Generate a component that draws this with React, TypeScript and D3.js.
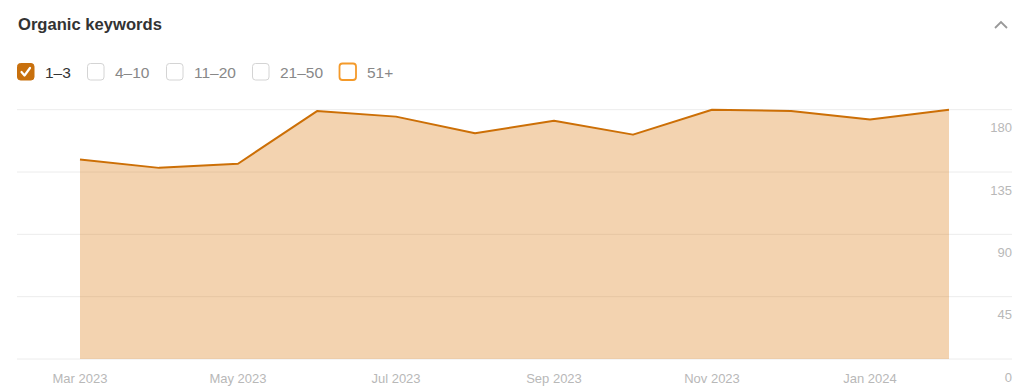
import React from "react";
import * as d3 from "d3";

const months = ["Mar 2023","Apr 2023","May 2023","Jun 2023","Jul 2023","Aug 2023","Sep 2023","Oct 2023","Nov 2023","Dec 2023","Jan 2024","Feb 2024"];
const values = [144, 138, 141, 179, 175, 163, 172, 162, 180, 179, 173, 180];
const tickMonths = ["Mar 2023","May 2023","Jul 2023","Sep 2023","Nov 2023","Jan 2024"];
const yTicks = [0, 45, 90, 135, 180];
const legendItems = ["1–3", "4–10", "11–20", "21–50", "51+"];
const legendChecked = [true, false, false, false, false];

const W = 1024, H = 391;
const FONT = "Arial, 'Liberation Sans', Helvetica, sans-serif";

export default function App() {
  const x = d3.scalePoint<string>().domain(months).range([80, 949]);
  const y = d3.scaleLinear().domain([0, 180]).range([359, 109.7]);
  const area = d3.area<number>().x((_, i) => x(months[i])!).y0(y(0)).y1(d => y(d));
  const line = d3.line<number>().x((_, i) => x(months[i])!).y(d => y(d));
  const legendX = [17, 87, 166, 252, 339];

  return (
    <div style={{ position: "absolute", left: 0, top: 0 }}>
      <svg width={W} height={H} style={{ display: "block", fontFamily: FONT }}>
        <rect width={W} height={H} fill="#fff" />
        <text x={18} y={30} fontSize={16.6} fontWeight={700} fill="#333">Organic keywords</text>
        <path d="M995,28 L1001,22 L1007,28" fill="none" stroke="#999" strokeWidth={1.8} />
        {legendItems.map((t, i) => {
          const bx = legendX[i];
          const checked = legendChecked[i];
          const last = i === legendItems.length - 1;
          return (
            <g key={t}>
              <rect x={bx + 0.5} y={63.5} width={16.5} height={16.5} rx={3}
                fill={checked ? "#c8700d" : "#fff"}
                stroke={checked ? "#c8700d" : last ? "#f49a2a" : "#d4d4d4"}
                strokeWidth={last ? 1.8 : 1} />
              {checked && (
                <path d={`M${bx + 4.5},${72} L${bx + 7.5},${75.5} L${bx + 13},${68}`} fill="none" stroke="#fff" strokeWidth={2.2} strokeLinecap="round" strokeLinejoin="round" />
              )}
              <text x={bx + 28} y={77.5} fontSize={15.5} fill={checked ? "#333" : "#888"}>{t}</text>
            </g>
          );
        })}
        {yTicks.map(v => (
          <g key={v}>
            <line x1={17} x2={1012} y1={y(v)} y2={y(v)} stroke="#ececec" strokeWidth={1} />
            <text x={1012} y={y(v) + 22.5} fontSize={13} fill="#b8b8b8" textAnchor="end">{v}</text>
          </g>
        ))}
        <path d={area(values)!} fill="rgb(221,128,30)" fillOpacity={0.35} />
        <path d={line(values)!} fill="none" stroke="#cc6f06" strokeWidth={2} strokeLinejoin="round" />
        {tickMonths.map(m => (
          <text key={m} x={x(m)!} y={383} fontSize={13} fill="#b8b8b8" textAnchor="middle">{m}</text>
        ))}
      </svg>
    </div>
  );
}
